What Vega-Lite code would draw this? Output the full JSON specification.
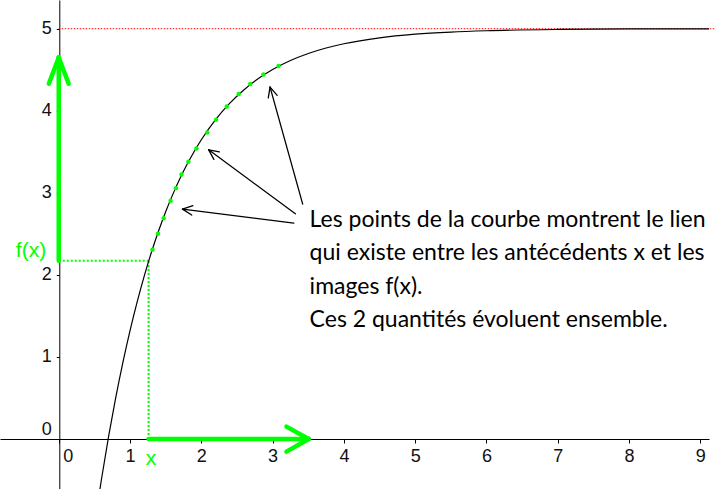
{
  "$schema": "https://vega.github.io/schema/vega-lite/v6.json",
  "width": 716,
  "height": 489,
  "padding": 0,
  "autosize": {"type": "fit", "contains": "padding"},
  "background": "white",
  "view": {"stroke": null},
  "datasets": {
    "curve": [
      {"x": 0.55, "y": -0.769}, {"x": 0.6, "y": -0.488}, {"x": 0.7, "y": 0.034}, {"x": 0.8, "y": 0.507},
      {"x": 0.9, "y": 0.934}, {"x": 1.0, "y": 1.321}, {"x": 1.1, "y": 1.671}, {"x": 1.2, "y": 1.988},
      {"x": 1.3, "y": 2.275}, {"x": 1.4, "y": 2.534}, {"x": 1.5, "y": 2.769}, {"x": 1.6, "y": 2.981},
      {"x": 1.7, "y": 3.173}, {"x": 1.8, "y": 3.347}, {"x": 1.9, "y": 3.504}, {"x": 2.0, "y": 3.647},
      {"x": 2.2, "y": 3.892}, {"x": 2.4, "y": 4.093}, {"x": 2.6, "y": 4.257}, {"x": 2.8, "y": 4.392},
      {"x": 3.0, "y": 4.502}, {"x": 3.25, "y": 4.612}, {"x": 3.5, "y": 4.698}, {"x": 3.75, "y": 4.765},
      {"x": 4.0, "y": 4.817}, {"x": 4.5, "y": 4.889}, {"x": 5.0, "y": 4.933}, {"x": 5.5, "y": 4.959},
      {"x": 6.0, "y": 4.975}, {"x": 7.0, "y": 4.991}, {"x": 8.0, "y": 4.997}, {"x": 9.2, "y": 4.999}
    ],
    "points": [
      {"x": 1.315, "y": 2.305}, {"x": 1.393, "y": 2.5}, {"x": 1.472, "y": 2.691}, {"x": 1.569, "y": 2.902},
      {"x": 1.644, "y": 3.057}, {"x": 1.722, "y": 3.223}, {"x": 1.819, "y": 3.378}, {"x": 1.931, "y": 3.54},
      {"x": 2.083, "y": 3.735}, {"x": 2.208, "y": 3.89}, {"x": 2.357, "y": 4.052}, {"x": 2.524, "y": 4.204},
      {"x": 2.686, "y": 4.326}, {"x": 2.871, "y": 4.443}, {"x": 3.083, "y": 4.545}
    ],
    "asymptote": [{"x": 0, "x2": 9.2, "y": 5, "y2": 5}],
    "dotted": [
      {"x": 0, "y": 2.171, "x2": 1.26, "y2": 2.171},
      {"x": 1.26, "y": 0, "x2": 1.26, "y2": 2.171}
    ],
    "greenArrows": [
      {"x": 0, "y": 2.171, "x2": 0, "y2": 4.65},
      {"x": -0.139, "y": 4.33, "x2": 0, "y2": 4.65},
      {"x": 0.139, "y": 4.33, "x2": 0, "y2": 4.65},
      {"x": 1.26, "y": 0, "x2": 3.506, "y2": 0},
      {"x": 3.194, "y": 0.15, "x2": 3.506, "y2": 0},
      {"x": 3.194, "y": -0.155, "x2": 3.506, "y2": 0}
    ],
    "blackArrows": [
      {"x": 3.297, "y": 2.63, "x2": 1.736, "y2": 2.801},
      {"x": 1.865, "y": 2.729, "x2": 1.736, "y2": 2.801},
      {"x": 1.882, "y": 2.843, "x2": 1.736, "y2": 2.801},
      {"x": 3.319, "y": 2.744, "x2": 2.103, "y2": 3.524},
      {"x": 2.176, "y": 3.407, "x2": 2.103, "y2": 3.524},
      {"x": 2.253, "y": 3.499, "x2": 2.103, "y2": 3.524},
      {"x": 3.422, "y": 2.862, "x2": 2.964, "y2": 4.289},
      {"x": 2.939, "y": 4.156, "x2": 2.964, "y2": 4.289},
      {"x": 3.064, "y": 4.188, "x2": 2.964, "y2": 4.289}
    ],
    "notes": [
      {"x": 3.519, "y": 2.589, "label": "Les points de la courbe montrent le lien"},
      {"x": 3.519, "y": 2.183, "label": "qui existe entre les antécédents x et les"},
      {"x": 3.519, "y": 1.768, "label": "images f(x)."},
      {"x": 3.519, "y": 1.362, "label": "Ces 2 quantités évoluent ensemble."}
    ],
    "greenLabels": [
      {"x": -0.389, "y": 2.22, "label": "f(x)"},
      {"x": 1.294, "y": -0.317, "label": "x"}
    ]
  },
  "encoding": {
    "x": {
      "field": "x", "type": "quantitative",
      "scale": {"domain": [-0.824, 9.121], "nice": false, "zero": false}
    },
    "y": {
      "field": "y", "type": "quantitative",
      "scale": {"domain": [-0.61, 5.35], "nice": false, "zero": false}
    }
  },
  "layer": [
    {
      "data": {"name": "asymptote"},
      "mark": {"type": "rule", "color": "#ff0000", "strokeWidth": 1, "strokeDash": [1.5, 1.5]},
      "encoding": {
        "x": {
          "field": "x", "type": "quantitative",
          "axis": {
            "orient": "bottom", "offset": -50, "title": null, "grid": false, "format": "d",
            "values": [0, 1, 2, 3, 4, 5, 6, 7, 8, 9],
            "domainColor": "#000000", "domainWidth": 1,
            "tickColor": "#000000", "tickSize": 4, "tickWidth": 1,
            "labelFont": "Liberation Sans", "labelFontSize": 18, "labelColor": "#111111",
            "labelPadding": 4, "labelFlush": false, "labelOverlap": false,
            "labelAlign": {"condition": {"test": "datum.value === 0", "value": "left"}, "value": "center"},
            "labelOffset": {"condition": {"test": "datum.value === 0", "value": 4}, "value": 0}
          }
        },
        "y": {
          "field": "y", "type": "quantitative",
          "axis": {
            "orient": "left", "offset": -59.3, "title": null, "grid": false, "format": "d",
            "values": [0, 1, 2, 3, 4, 5],
            "domainColor": "#000000", "domainWidth": 1,
            "tickColor": "#000000", "tickSize": 3, "tickWidth": 1,
            "labelFont": "Liberation Sans", "labelFontSize": 18, "labelColor": "#111111",
            "labelPadding": 5, "labelFlush": false, "labelOverlap": false,
            "labelBaseline": {"condition": {"test": "datum.value === 0", "value": "bottom"}, "value": "middle"}
          }
        },
        "x2": {"field": "x2"},
        "y2": {"field": "y2"}
      }
    },
    {
      "data": {"name": "dotted"},
      "mark": {"type": "rule", "color": "#00ff00", "strokeWidth": 2, "strokeDash": [2, 2]},
      "encoding": {"x2": {"field": "x2"}, "y2": {"field": "y2"}}
    },
    {
      "data": {"name": "curve"},
      "mark": {"type": "line", "color": "#000000", "strokeWidth": 1.2, "interpolate": "monotone", "clip": true},
      "encoding": {"order": {"field": "x", "type": "quantitative"}}
    },
    {
      "data": {"name": "points"},
      "mark": {"type": "circle", "color": "#00ff00", "size": 20, "opacity": 1}
    },
    {
      "data": {"name": "greenArrows"},
      "mark": {"type": "rule", "color": "#00ff00", "strokeWidth": 4.5, "strokeCap": "round"},
      "encoding": {"x2": {"field": "x2"}, "y2": {"field": "y2"}}
    },
    {
      "data": {"name": "blackArrows"},
      "mark": {"type": "rule", "color": "#000000", "strokeWidth": 1.3, "strokeCap": "round"},
      "encoding": {"x2": {"field": "x2"}, "y2": {"field": "y2"}}
    },
    {
      "data": {"name": "notes"},
      "mark": {"type": "text", "align": "left", "baseline": "alphabetic", "font": "Lato", "fontSize": 23, "color": "#000000"},
      "encoding": {"text": {"field": "label"}}
    },
    {
      "data": {"name": "greenLabels"},
      "mark": {"type": "text", "align": "center", "baseline": "alphabetic", "font": "Liberation Sans", "fontSize": 21, "color": "#00ff00"},
      "encoding": {"text": {"field": "label"}}
    }
  ]
}
